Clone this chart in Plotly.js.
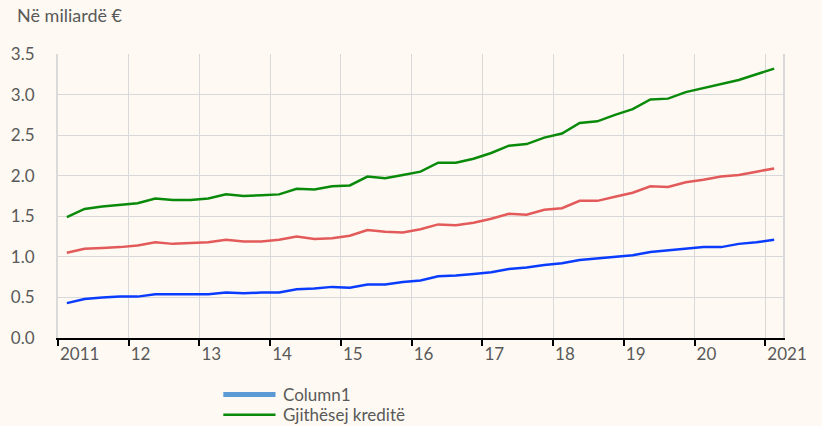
<!DOCTYPE html>
<html>
<head>
<meta charset="utf-8">
<script src="https://cdn.plot.ly/plotly-3.0.1.min.js"></script>
<style>html,body{margin:0;padding:0;background:#FEF9F2;}#chart{width:822px;height:426px;}</style>
</head>
<body>
<div id="chart"></div>
<script>
// Quarterly periods (categories)
const periods = [
  '2011T1','2011T2','2011T3','2011T4','2012T1','2012T2','2012T3','2012T4',
  '2013T1','2013T2','2013T3','2013T4','2014T1','2014T2','2014T3','2014T4',
  '2015T1','2015T2','2015T3','2015T4','2016T1','2016T2','2016T3','2016T4',
  '2017T1','2017T2','2017T3','2017T4','2018T1','2018T2','2018T3','2018T4',
  '2019T1','2019T2','2019T3','2019T4','2020T1','2020T2','2020T3','2020T4',
  '2021T1'
];
const yearLabels = ['2011','12','13','14','15','16','17','18','19','20','2021'];

// Series values (billion €)
const totalLoans = [
  1.49,1.59,1.62,1.64,1.66,1.72,1.70,1.70,1.72,1.77,1.75,1.76,1.77,1.84,1.83,1.87,
  1.88,1.99,1.97,2.01,2.05,2.16,2.16,2.21,2.28,2.37,2.39,2.47,2.52,2.65,2.67,2.75,
  2.82,2.94,2.95,3.03,3.08,3.13,3.18,3.25,3.32
];
const loansRed = [
  1.05,1.10,1.11,1.12,1.14,1.18,1.16,1.17,1.18,1.21,1.19,1.19,1.21,1.25,1.22,1.23,
  1.26,1.33,1.31,1.30,1.34,1.40,1.39,1.42,1.47,1.53,1.52,1.58,1.60,1.69,1.69,1.74,
  1.79,1.87,1.86,1.92,1.95,1.99,2.01,2.05,2.09
];
const loansBlue = [
  0.43,0.48,0.50,0.51,0.51,0.54,0.54,0.54,0.54,0.56,0.55,0.56,0.56,0.60,0.61,0.63,
  0.62,0.66,0.66,0.69,0.71,0.76,0.77,0.79,0.81,0.85,0.87,0.90,0.92,0.96,0.98,1.00,
  1.02,1.06,1.08,1.10,1.12,1.12,1.16,1.18,1.21
];
const legendNames = ['Column1','Gjithësej kreditë'];
const legendColors = ['#5B9BD5','#0A8A0A'];
const legendWidths = [5,2.5];

const xIdx = periods.map((_, i) => i);
const tickVals = yearLabels.map((_, k) => 4 * k - 0.5);

const textColor = '#595959';
const fontFam = 'Lato, "Open Sans", sans-serif';

const traces = [
  {x: xIdx, y: loansBlue, type: 'scatter', mode: 'lines', name: 'Seria 1',
   line: {color: '#0A3CFF', width: 2.5}, showlegend: false, text: periods, hoverinfo: 'text+y'},
  {x: xIdx, y: loansRed, type: 'scatter', mode: 'lines', name: 'Seria 2',
   line: {color: '#E25A5A', width: 2.5}, showlegend: false, text: periods, hoverinfo: 'text+y'},
  {x: xIdx, y: totalLoans, type: 'scatter', mode: 'lines', name: legendNames[1],
   line: {color: '#0A8A0A', width: 2.5}, showlegend: false, text: periods, hoverinfo: 'text+y'}
];

// Custom legend (line samples + labels) below the plot
const shapes = [];
const annotations = [];
const legY = [-0.199, -0.270];
legendNames.forEach((nm, i) => {
  shapes.push({type: 'line', xref: 'paper', yref: 'paper', x0: 0.228, x1: 0.300, y0: legY[i], y1: legY[i],
    line: {color: legendColors[i], width: legendWidths[i]}});
  annotations.push({xref: 'paper', yref: 'paper', x: 0.307, y: legY[i], xanchor: 'left', yanchor: 'middle',
    text: nm, showarrow: false, font: {family: fontFam, size: 17, color: textColor}});
});

const layout = {
  width: 822, height: 426,
  margin: {l: 58, r: 39, t: 54, b: 88},
  paper_bgcolor: '#FEF9F2', plot_bgcolor: '#FEF9F2',
  showlegend: false,
  font: {family: fontFam, size: 17, color: textColor},
  title: {text: 'Në miliardë €', xref: 'container', yref: 'container', x: 17/822, xanchor: 'left',
          y: 1 - 16/426, yanchor: 'middle', font: {family: fontFam, size: 18, color: textColor}},
  xaxis: {
    range: [-0.5, 40.5], tickmode: 'array', tickvals: tickVals, ticktext: yearLabels,
    ticks: 'outside', ticklen: 6, tickwidth: 2, tickcolor: '#000000',
    showline: true, linecolor: '#000000', linewidth: 2,
    showgrid: true, gridcolor: '#D9D9D9', gridwidth: 1,
    zeroline: false, ticklabelposition: 'outside right', fixedrange: true
  },
  yaxis: {
    range: [0, 3.5], tickmode: 'array', tickvals: [0,0.5,1,1.5,2,2.5,3,3.5],
    ticktext: ['0.0','0.5','1.0','1.5','2.0','2.5','3.0','3.5'],
    showline: true, mirror: true, linecolor: '#D9D9D9', linewidth: 2,
    showgrid: true, gridcolor: '#D9D9D9', gridwidth: 1, zeroline: false,
    ticks: '', ticklabelstandoff: 18, fixedrange: true
  },
  shapes: shapes,
  annotations: annotations
};

Plotly.newPlot('chart', traces, layout, {displayModeBar: false, staticPlot: true});
</script>
</body>
</html>
